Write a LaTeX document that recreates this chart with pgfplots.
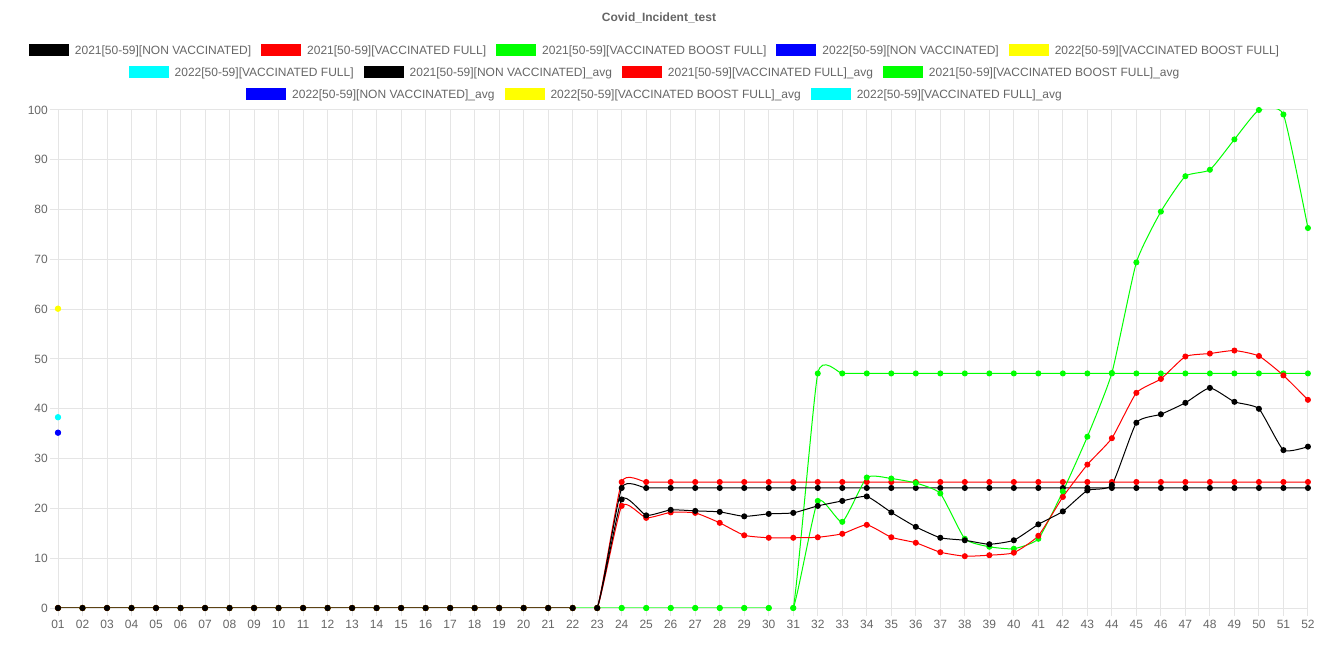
\documentclass[border=0pt]{standalone}
\usepackage{fontspec}
\setmainfont{Liberation Sans}
\usepackage{pgfplots}
\usepackage{pgfplotstable}
\pgfplotsset{compat=1.18}
\definecolor{txtgray}{HTML}{666666}
\definecolor{gridgray}{HTML}{E5E5E5}
\definecolor{zerogray}{HTML}{BFBFBF}
\definecolor{lime}{HTML}{00FF00}
\definecolor{cyanc}{HTML}{00FFFF}
\definecolor{yell}{HTML}{FFFF00}
\definecolor{bluec}{HTML}{0000FF}
\definecolor{redc}{HTML}{FF0000}

\pgfplotstableread{
w nv vf vb nva vfa vba
1 0 0 0 0 0 0
2 0 0 0 0 0 0
3 0 0 0 0 0 0
4 0 0 0 0 0 0
5 0 0 0 0 0 0
6 0 0 0 0 0 0
7 0 0 0 0 0 0
8 0 0 0 0 0 0
9 0 0 0 0 0 0
10 0 0 0 0 0 0
11 0 0 0 0 0 0
12 0 0 0 0 0 0
13 0 0 0 0 0 0
14 0 0 0 0 0 0
15 0 0 0 0 0 0
16 0 0 0 0 0 0
17 0 0 0 0 0 0
18 0 0 0 0 0 0
19 0 0 0 0 0 0
20 0 0 0 0 0 0
21 0 0 0 0 0 0
22 0 0 0 0 0 0
23 0 0 0 0 0 0
24 21.8 20.5 0 24.1 25.3 0
25 18.6 18.1 0 24.1 25.3 0
26 19.7 19.2 0 24.1 25.3 0
27 19.5 19.1 0 24.1 25.3 0
28 19.3 17.1 0 24.1 25.3 0
29 18.4 14.6 0 24.1 25.3 0
30 18.9 14.1 0 24.1 25.3 0
31 19.1 14.1 0 24.1 25.3 0
32 20.5 14.2 21.5 24.1 25.3 47.1
33 21.5 14.9 17.3 24.1 25.3 47.1
34 22.4 16.7 26.2 24.1 25.3 47.1
35 19.2 14.2 26.0 24.1 25.3 47.1
36 16.3 13.1 25.1 24.1 25.3 47.1
37 14.1 11.2 23.0 24.1 25.3 47.1
38 13.6 10.4 13.9 24.1 25.3 47.1
39 12.8 10.6 12.3 24.1 25.3 47.1
40 13.6 11.1 11.9 24.1 25.3 47.1
41 16.8 14.5 13.9 24.1 25.3 47.1
42 19.4 22.3 23.4 24.1 25.3 47.1
43 23.6 28.8 34.4 24.1 25.3 47.1
44 24.7 34.1 47.2 24.1 25.3 47.1
45 37.2 43.2 69.4 24.1 25.3 47.1
46 38.9 46.0 79.6 24.1 25.3 47.1
47 41.2 50.5 86.7 24.1 25.3 47.1
48 44.2 51.1 88.0 24.1 25.3 47.1
49 41.4 51.7 94.1 24.1 25.3 47.1
50 40.0 50.6 100.0 24.1 25.3 47.1
51 31.7 46.7 99.1 24.1 25.3 47.1
52 32.4 41.8 76.3 24.1 25.3 47.1
}\datatable

\newcommand{\legitem}[2]{\textcolor{#1}{\rule[-1.7bp]{40bp}{12bp}}\kern6bp#2\kern10bp\relax}

\begin{document}
\begin{tikzpicture}
\useasboundingbox (0,0) rectangle (1318bp,659bp);
\begin{axis}[
  at={(58bp,51bp)}, anchor=south west,
  width=1250bp, height=498bp, scale only axis,
  xmin=1, xmax=52, ymin=0, ymax=100,
  axis x line*=bottom, axis y line*=left,
  axis line style={draw=none},
  xtick={1,...,52},
  xticklabels={01,02,03,04,05,06,07,08,09,10,11,12,13,14,15,16,17,18,19,20,21,22,23,24,25,26,27,28,29,30,31,32,33,34,35,36,37,38,39,40,41,42,43,44,45,46,47,48,49,50,51,52},
  ytick={0,10,...,100},
  yticklabels={0,10,20,30,40,50,60,70,80,90,100},
  grid=major,
  major grid style={draw=gridgray, line width=1bp},
  tick align=outside,
  major tick length=8bp,
  tick style={draw=gridgray, line width=1bp},
  tick label style={font=\fontsize{12bp}{14bp}\selectfont, text=txtgray},
  xticklabel style={anchor=north, inner sep=0pt, yshift=-4bp},
  yticklabel style={anchor=east, inner sep=0pt, xshift=-2bp},
  clip marker paths=false,
  every axis plot/.append style={line width=1bp, mark=*, mark size=2.5bp, smooth, tension=0.3},
]
\draw[zerogray, line width=1bp] (rel axis cs:0,0) ++(-8bp,0) -- (rel axis cs:1,0);
% 2022 averages (single week)
\addplot[cyanc, mark options={fill=cyanc, draw=cyanc}] coordinates {(1,38.3)};
\addplot[yell, mark options={fill=yell, draw=yell}] coordinates {(1,60.1)};
\addplot[bluec, mark options={fill=bluec, draw=bluec}] coordinates {(1,35.2)};
% 2021 averages
\addplot[lime, mark options={fill=lime, draw=lime}] table[x=w, y=vba] {\datatable};
\addplot[redc, mark options={fill=redc, draw=redc}] table[x=w, y=vfa] {\datatable};
\addplot[black, mark options={fill=black, draw=black}] table[x=w, y=nva] {\datatable};
% 2022 weekly
\addplot[cyanc, mark options={fill=cyanc, draw=cyanc}] coordinates {(1,38.3)};
\addplot[yell, mark options={fill=yell, draw=yell}] coordinates {(1,60.1)};
\addplot[bluec, mark options={fill=bluec, draw=bluec}] coordinates {(1,35.2)};
% 2021 weekly
\addplot[lime, mark options={fill=lime, draw=lime}] table[x=w, y=vb] {\datatable};
\addplot[redc, mark options={fill=redc, draw=redc}] table[x=w, y=vf] {\datatable};
\addplot[black, mark options={fill=black, draw=black}] table[x=w, y=nv] {\datatable};
\end{axis}
% title
\node[anchor=base, inner sep=0pt, text=txtgray, font=\fontsize{12bp}{14bp}\selectfont\bfseries] at (659bp,637.7bp) {Covid\_Incident\_test};
% legend rows
\begin{scope}[every node/.style={anchor=base, inner sep=0pt, text=txtgray, font=\fontsize{12bp}{14bp}\selectfont}]
\node at (659bp,604.7bp) {\legitem{black}{2021[50-59][NON VACCINATED]}\legitem{redc}{2021[50-59][VACCINATED FULL]}\legitem{lime}{2021[50-59][VACCINATED BOOST FULL]}\legitem{bluec}{2022[50-59][NON VACCINATED]}\legitem{yell}{2022[50-59][VACCINATED BOOST FULL]}};
\node at (659bp,582.7bp) {\legitem{cyanc}{2022[50-59][VACCINATED FULL]}\legitem{black}{2021[50-59][NON VACCINATED]\_avg}\legitem{redc}{2021[50-59][VACCINATED FULL]\_avg}\legitem{lime}{2021[50-59][VACCINATED BOOST FULL]\_avg}};
\node at (659bp,560.7bp) {\legitem{bluec}{2022[50-59][NON VACCINATED]\_avg}\legitem{yell}{2022[50-59][VACCINATED BOOST FULL]\_avg}\legitem{cyanc}{2022[50-59][VACCINATED FULL]\_avg}};
\end{scope}
\end{tikzpicture}
\end{document}
